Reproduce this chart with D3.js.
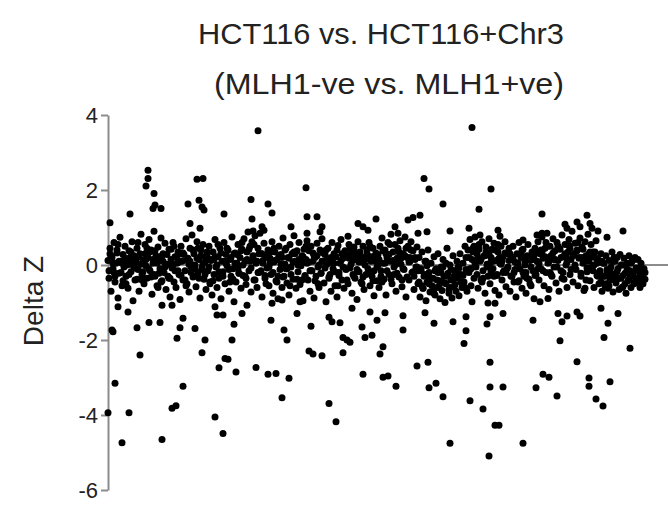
<!DOCTYPE html>
<html>
<head>
<meta charset="utf-8">
<script src="https://cdn.jsdelivr.net/npm/d3@7/dist/d3.min.js"></script>
<style>
    html, body { margin: 0; padding: 0; background: #fff; }
    #chart { width: 668px; height: 510px; }
</style>
</head>
<body>
<div id="chart"></div>
<script>
// probe order (x) and delta Z (y)
const titleLines = ['HCT116 vs. HCT116+Chr3', '(MLH1-ve vs. MLH1+ve)'];
const yLabel = 'Delta Z';
const yTicks = [4, 2, 0, -2, -4, -6];

const upperPoints = [
    [150,3.58],[40,2.53],[40,2.31],[38,2.11],[46,1.91],[45,1.51],[53,1.51],[47,1.6],[22,1.36],[89,2.29],[95,2.31],[80,1.63],[91,1.73],[94,1.55],[96,1.47],[116,1.36],[143,1.75],[160,1.63],[164,1.39],[144,1.23],[145,0.91],[154,1.02],[156,0.93],[183,1.02],[2,1.13],[82,1.11],[92,0.98],
    [364,3.67],[198,2.06],[316,2.31],[321,2.03],[335,1.63],[371,1.49],[199,1.29],[209,1.29],[199,0.85],[214,1.02],[212,0.89],[250,1.11],[255,1.02],[260,0.93],[268,1.23],[300,1.2],[305,1.27],[312,1.33],[287,1.02],[290,0.85],[310,0.85],[319,0.89],[342,0.91],[361,0.98],[240,0.77],
    [383,2.03],[434,1.36],[479,1.33],[390,0.93],[392,0.77],[372,0.8],[457,1.09],[459,0.98],[469,1.15],[472,1.02],[482,1.11],[484,0.98],[490,0.91],[515,0.91],[499,0.74],[429,0.8],[434,0.85],[415,0.67]
];

const lowerPoints = [
    [4,-1.73],[5,-1.78],[29,-1.67],[41,-1.53],[52,-1.53],[75,-1.42],[72,-1.67],[87,-1.69],[69,-1.95],[97,-2.0],[94,-2.34],[32,-2.4],[117,-2.49],[120,-2.51],[111,-2.74],[128,-2.85],[124,-2.0],[126,-1.58],[148,-2.73],[160,-2.91],[168,-2.89],[181,-3.02],[174,-3.54],[163,-1.47],[176,-1.73],[179,-2.0],[7,-3.15],[75,-3.23],[64,-3.82],[68,-3.75],[0,-3.94],[21,-3.94],[107,-4.05],[115,-4.49],[14,-4.74],[54,-4.65],[10,-1.11],[20,-1.25],[54,-1.07],[64,-1.07],[107,-1.11],[109,-1.33],[115,-1.33],[134,-1.29],[139,-1.07],[189,-1.29],[164,-1.02],[174,-0.93],
    [203,-1.63],[221,-1.39],[224,-1.51],[232,-1.54],[254,-1.65],[235,-1.93],[239,-2.0],[242,-2.06],[257,-1.93],[264,-1.87],[201,-2.29],[205,-2.37],[214,-2.42],[235,-2.34],[272,-2.37],[275,-2.18],[295,-1.73],[295,-1.35],[317,-1.27],[326,-1.55],[345,-1.51],[358,-1.38],[358,-1.75],[356,-2.09],[309,-2.69],[320,-2.59],[255,-2.91],[275,-2.99],[280,-2.96],[288,-3.23],[321,-3.27],[328,-3.15],[335,-3.51],[362,-3.62],[221,-3.69],[228,-4.18],[342,-4.75],[277,-1.27],[269,-1.47],[192,-0.98],[244,-1.15],[262,-1.25],[364,-0.98],
    [382,-1.38],[379,-1.57],[395,-1.29],[380,-1.01],[387,-1.02],[425,-1.47],[450,-1.29],[454,-1.51],[459,-1.36],[469,-1.25],[472,-1.36],[452,-2.02],[493,-1.15],[510,-1.29],[500,-1.55],[496,-1.93],[522,-2.22],[382,-2.59],[469,-2.58],[435,-2.91],[441,-2.99],[382,-3.25],[395,-3.25],[428,-3.27],[449,-3.49],[481,-3.01],[481,-3.23],[502,-3.11],[488,-3.57],[495,-3.76],[375,-3.84],[387,-4.27],[391,-4.27],[415,-4.75],[381,-5.09],[432,-0.98],[440,-0.89],[477,-0.62]
];

// main cloud, split by stretch of the genome
const bandA = [
    [0,0.12],[1,-0.35],[2,0.45],[3,-0.7],[4,0.2],[5,-0.1],[6,0.6],[7,-0.45],[8,0.05],[9,0.32],[10,-0.88],[11,-0.22],[12,0.74],[13,0.1],[14,-0.55],[15,0.28],[16,-0.05],[17,0.5],[18,-0.3],[19,0.15],
    [20,-0.62],[21,0.38],[22,0.02],[23,-0.18],[24,0.62],[25,-0.95],[26,0.25],[27,-0.4],[28,0.08],[29,0.45],[30,-0.12],[31,-0.7],[32,0.3],[33,0.82],[34,-0.25],[35,0.12],[36,-0.5],[37,0.55],[38,-0.02],[39,-0.35],
    [40,0.2],[41,0.68],[42,-0.15],[43,0.4],[44,-0.78],[45,0.05],[46,0.9],[47,-0.3],[48,0.25],[49,-0.55],[50,0.48],[51,0.12],[52,-0.1],[53,0.72],[54,-0.42],[55,0.3],[56,-0.2],[57,0.58],[58,-0.65],[59,0.02],
    [60,-0.3],[61,0.42],[62,-0.85],[63,0.15],[64,-0.08],[65,0.6],[66,-0.45],[67,0.22],[68,-0.6],[69,0.05],[70,0.35],[71,-0.25],[72,-0.92],[73,0.5],[74,0.1],[75,-0.4],[76,0.28],[77,-0.15],[78,0.7],[79,-0.5],
    [80,0.18],[81,-0.72],[82,0.45],[83,-0.05],[84,0.8],[85,-0.32],[86,0.3],[87,0.0],[88,-0.58],[89,0.62],[90,-0.2],[91,0.15],[92,-0.88],[93,0.4],[94,-0.12],[95,0.55],[96,-0.38],[97,0.08],[98,-0.65],[99,0.25],
    [100,-0.15],[101,0.5],[102,-0.45],[103,0.12],[104,-0.8],[105,0.35],[106,-0.25],[107,0.68],[108,-0.05],[109,-0.6],[110,0.22],[111,-0.35],[112,0.45],[113,-0.9],[114,0.1],[115,-0.18],[116,0.6],[117,-0.5],[118,0.28],[119,-0.02],
    [120,0.4],[121,-0.7],[122,0.15],[123,-0.3],[124,0.75],[125,-0.1],[126,-0.98],[127,0.32],[128,-0.45],[129,0.05],[130,0.55],[131,-0.22],[132,0.2],[133,-0.62],[134,0.42]
];

const bandB = [
    [135,-0.28],[136,0.7],[137,0.1],[138,-0.52],[139,0.35],[140,0.88],[141,-0.15],[142,0.5],[143,-0.72],[144,0.62],[145,0.2],[146,-0.4],[147,0.78],[148,0.05],[149,-0.6],[150,0.45],[151,-0.2],[152,0.85],[153,0.3],[154,-0.85],[155,0.12],[156,0.58],[157,-0.35],[158,0.25],[159,-0.08],
    [160,0.4],[161,-0.55],[162,0.18],[163,-0.25],[164,0.62],[165,-0.75],[166,0.08],[167,0.35],[168,-0.42],[169,0.15],[170,-0.9],[171,0.5],[172,-0.12],[173,0.28],[174,-0.6],[175,0.72],[176,-0.3],[177,0.02],[178,0.45],[179,-0.48],
    [180,0.2],[181,-0.8],[182,0.55],[183,-0.05],[184,0.3],[185,-0.38],[186,0.78],[187,0.1],[188,-0.62],[189,0.38],[190,-0.18],[191,0.6],[192,-0.52],[193,0.05],[194,0.25],[195,-0.95],[196,0.42],[197,-0.28],[198,0.15],[199,0.65],
    [200,-0.4],[201,0.08],[202,-0.7],[203,0.5],[204,-0.15],[205,0.32],[206,-0.88],[207,0.2],[208,-0.3],[209,0.58],[210,-0.05],[211,-0.6],[212,0.4],[213,-0.22],[214,0.7],[215,0.1],[216,-0.48],[217,0.28],[218,-0.98],[219,0.02],
    [220,0.45],[221,-0.32],[222,0.15],[223,-0.7],[224,0.6],[225,-0.1],[226,0.3],[227,-0.55],[228,0.22],[229,-0.85],[230,0.52],[231,-0.2],[232,0.05],[233,0.68],[234,-0.4],[235,0.18],[236,-0.62],[237,0.38],[238,-0.12],[239,0.25],
    [240,-0.5],[241,0.55],[242,-0.08],[243,0.3],[244,-0.75],[245,0.12],[246,0.48],[247,-0.35],[248,0.2],[249,-0.92],[250,0.62],[251,-0.18],[252,0.35],[253,-0.45],[254,0.08],[255,0.5],[256,-0.65],[257,0.15],[258,-0.25],[259,0.4],
    [260,-0.1],[261,0.6],[262,-0.55],[263,0.22],[264,-0.3],[265,0.45],[266,-0.82],[267,0.1],[268,0.32],[269,-0.42]
];

const bandC = [
    [270,0.28],[271,-0.6],[272,0.5],[273,-0.15],[274,0.72],[275,0.05],[276,-0.38],[277,0.4],[278,-0.8],[279,0.2],[280,0.6],[281,-0.25],[282,0.1],[283,0.82],[284,-0.5],[285,0.35],[286,-0.05],[287,0.55],[288,-0.7],[289,0.18],
    [290,0.45],[291,-0.32],[292,0.65],[293,0.02],[294,-0.58],[295,0.3],[296,-0.12],[297,0.75],[298,-0.85],[299,0.2],[300,0.5],[301,-0.4],[302,0.1],[303,0.62],[304,-0.2],[305,0.38],[306,-0.65],[307,0.15],[308,-0.05],[309,0.48],
    [310,-0.5],[311,0.2],[312,-0.85],[313,-0.15],[314,0.35],[315,-0.62],[316,-0.3],[317,0.1],[318,-0.95],[319,-0.45],[320,0.4],[321,-0.2],[322,-0.72],[323,0.05],[324,-0.55],[325,-0.35],[326,0.22],[327,-0.8],[328,-0.1],[329,-0.6],
    [330,0.3],[331,-0.42],[332,-0.9],[333,-0.05],[334,-0.68],[335,0.15],[336,-0.3],[337,-1.0],[338,-0.5],[339,0.45],[340,-0.22],[341,-0.75],[342,0.0],[343,-0.4],[344,-0.88],[345,0.25],[346,-0.58],[347,-0.15],[348,-0.7],[349,0.1],
    [350,-0.35],[351,-0.82],[352,0.3],[353,-0.25],[354,-0.6],[355,0.05],[356,-0.45],[357,0.5],[358,-0.12],[359,-0.7],
    [360,0.4],[361,-0.2],[362,0.68],[363,-0.55],[364,0.15],[365,0.45],[366,-0.35],[367,0.75],[368,-0.05],[369,0.3],[370,-0.62],[371,0.55],[372,0.1],[373,-0.4],[374,0.62],[375,-0.15],[376,0.25],[377,-0.75],[378,0.48],[379,0.02],
    [380,-0.3],[381,0.7],[382,-0.5],[383,0.2],[384,0.42],[385,-0.1],[386,0.58],[387,-0.68],[388,0.12],[389,-0.25],[390,0.35],[391,-0.8],[392,0.05],[393,0.5],[394,-0.4],[395,0.22],[396,-0.15],[397,0.62],[398,-0.58],[399,0.3],
    [400,-0.05],[401,0.45],[402,-0.7],[403,0.15],[404,-0.3]
];

const bandD = [
    [405,0.5],[406,-0.2],[407,0.08],[408,-0.85],[409,0.3],[410,-0.45],[411,0.6],[412,-0.1],[413,0.2],[414,-0.62],[415,0.42],[416,-0.3],[417,0.0],[418,-0.75],[419,0.25],[420,0.55],[421,-0.38],[422,0.12],[423,-0.55],[424,0.35],[425,-0.15],[426,-0.9],[427,0.45],[428,-0.25],[429,0.1],
    [430,0.62],[431,-0.4],[432,0.3],[433,-0.1],[434,0.75],[435,0.18],[436,-0.55],[437,0.45],[438,-0.2],[439,0.85],[440,0.05],[441,-0.65],[442,0.5],[443,0.25],[444,-0.3],[445,0.7],[446,-0.05],[447,0.38],[448,-0.48],[449,0.6],
    [450,0.12],[451,-0.7],[452,0.42],[453,-0.15],[454,0.8],[455,0.22],[456,-0.38],[457,0.55],[458,0.0],[459,-0.6],[460,0.35],[461,0.68],[462,-0.25],[463,0.15],[464,0.9],[465,-0.45],[466,0.3],[467,0.58],[468,-0.12],[469,0.4],
    [470,-0.55],[471,0.2],[472,0.72],[473,-0.3],[474,0.48],[475,0.05],[476,-0.68],[477,0.62],[478,0.25],[479,-0.18],[480,0.82],[481,0.1],[482,-0.42],[483,0.55],[484,-0.05],[485,0.35],[486,-0.6],[487,0.2],[488,0.65],[489,-0.28],
    [490,0.15],[491,-0.5],[492,-0.15],[493,0.3],[494,-0.7],[495,-0.3],[496,0.05],[497,-0.55],[498,0.25],[499,-0.2],[500,-0.62],[501,0.12],[502,-0.4],[503,-0.05],[504,0.35],[505,-0.72],[506,-0.25],[507,0.1],[508,-0.48],[509,0.2],
    [510,-0.1],[511,-0.65],[512,0.28],[513,-0.35],[514,0.0],[515,-0.58],[516,0.18],[517,-0.22],[518,-0.75],[519,0.05],[520,-0.42],[521,0.25],[522,-0.15],[523,-0.6],[524,0.1],[525,-0.3],[526,-0.5],[527,0.2],[528,-0.08],[529,-0.45],
    [530,0.15],[531,-0.35],[532,-0.6],[533,0.05],[534,-0.25],[535,-0.5],[536,-0.1],[537,-0.38]
];

// the dense core near zero
const coreBand = [
    [1,-0.15],[3,0.25],[5,0.05],[7,-0.3],[9,0.4],[11,0.1],[13,-0.2],[15,-0.42],[17,0.18],[19,0.0],[21,-0.25],[23,0.35],[25,0.12],[27,-0.08],[29,-0.38],[31,0.22],[33,0.02],[35,-0.18],[37,0.3],[39,0.45],
    [41,-0.1],[43,-0.32],[45,0.15],[47,0.38],[49,0.05],[51,-0.22],[53,-0.45],[55,0.1],[57,-0.05],[59,0.28],[61,-0.35],[63,0.42],[65,0.0],[67,-0.15],[69,0.2],[71,0.08],[73,-0.28],[75,0.32],[77,-0.4],[79,0.12],
    [81,0.02],[83,-0.2],[85,0.4],[87,-0.1],[89,0.18],[91,-0.35],[93,0.25],[95,0.05],[97,-0.25],[99,0.35],[101,-0.05],[103,0.15],[105,-0.42],[107,0.22],[109,0.0],[111,-0.18],[113,0.32],[115,-0.3],[117,0.1],[119,0.45],
    [121,-0.12],[123,0.2],[125,-0.38],[127,0.05],[129,0.28],[131,-0.22],[133,0.38],[135,0.0],[137,-0.3],[139,0.15],[141,0.42],[143,-0.08],[145,0.25],[147,-0.4],[149,0.1],[151,0.3],[153,-0.15],[155,0.05],[157,-0.28],[159,0.2],
    [161,-0.05],[163,0.35],[165,-0.2],[167,0.12],[169,-0.45],[171,0.25],[173,0.02],[175,-0.32],[177,0.4],[179,-0.1],[181,0.18],[183,-0.25],[185,0.08],[187,0.3],[189,-0.38],[191,0.15],[193,-0.02],[195,0.22],[197,-0.3],[199,0.05],
    [201,0.38],[203,-0.15],[205,0.1],[207,-0.42],[209,0.25],[211,0.0],[213,-0.22],[215,0.32],[217,-0.08],[219,0.15],[221,-0.35],[223,0.2],[225,0.05],[227,-0.18],[229,0.4],[231,-0.28],[233,0.12],[235,-0.05],[237,0.28],[239,-0.4],
    [241,0.18],[243,0.02],[245,-0.25],[247,0.35],[249,-0.12],[251,0.08],[253,0.22],[255,-0.32],[257,0.0],[259,0.3],[261,-0.2],[263,0.1],[265,-0.42],[267,0.25],[269,-0.05],[271,0.15],[273,-0.3],[275,0.38],[277,0.05],[279,-0.15],
    [281,0.28],[283,-0.38],[285,0.12],[287,0.0],[289,-0.22],[291,0.35],[293,0.18],[295,-0.1],[297,0.25],[299,-0.32],[301,0.08],[303,0.4],[305,-0.18],[307,0.2],[309,-0.05],
    [311,-0.45],[313,-0.1],[315,-0.62],[317,-0.25],[319,-0.02],[321,-0.5],[323,-0.35],[325,-0.7],[327,-0.15],[329,-0.4],[331,-0.58],[333,-0.2],[335,-0.05],[337,-0.48],[339,-0.3],[341,-0.65],[343,-0.12],[345,-0.38],[347,-0.52],[349,-0.22],
    [351,-0.08],[353,-0.45],[355,-0.28],[357,-0.6],[359,-0.18],
    [361,0.2],[363,-0.1],[365,0.35],[367,0.05],[369,-0.25],[371,0.42],[373,0.15],[375,-0.35],[377,0.25],[379,-0.05],[381,0.3],[383,-0.18],[385,0.1],[387,0.4],[389,-0.28],[391,0.18],[393,0.02],[395,-0.2],[397,0.32],[399,-0.1],[401,0.12],
    [403,-0.3],[405,0.2],[407,-0.12],[409,0.05],[411,-0.42],[413,0.3],[415,-0.2],[417,0.1],[419,-0.35],[421,0.22],[423,-0.05],[425,0.15],[427,-0.28],[429,0.35],
    [431,0.05],[433,0.4],[435,-0.15],[437,0.22],[439,0.5],[441,0.1],[443,-0.25],[445,0.32],[447,0.15],[449,-0.05],[451,0.45],[453,0.2],[455,-0.2],[457,0.3],[459,0.08],[461,0.52],[463,-0.12],[465,0.25],[467,0.0],[469,0.38],
    [471,0.18],[473,-0.22],[475,0.42],[477,0.1],[479,-0.08],[481,0.3],[483,0.22],[485,-0.15],[487,0.35],[489,0.05],
    [491,-0.2],[493,-0.45],[495,0.05],[497,-0.3],[499,-0.12],[501,-0.55],[503,-0.25],[505,0.1],[507,-0.4],[509,-0.18],[511,-0.35],[513,0.0],[515,-0.28],[517,-0.5],[519,-0.1],[521,-0.38],[523,0.05],[525,-0.22],[527,-0.45],[529,-0.15],
    [531,-0.32],[533,-0.05],[535,-0.4],[537,-0.2]
];

const coreBand2 = [
    [2,0.3],[6,-0.2],[10,0.55],[14,0.05],[18,-0.5],[22,0.2],[26,-0.05],[30,0.6],[34,-0.4],[38,0.15],[42,0.35],[46,-0.25],[50,-0.6],[54,0.25],[58,0.0],[62,-0.35],[66,0.5],[70,-0.15],[74,0.3],[78,-0.55],
    [82,0.1],[86,-0.3],[90,0.45],[94,-0.05],[98,0.2],[102,-0.5],[106,0.15],[110,0.55],[114,-0.25],[118,0.05],[122,-0.45],[126,0.3],[130,-0.1],[134,0.6],[138,-0.35],[142,0.1],[146,0.55],[150,-0.2],[154,0.3],[158,-0.5],
    [162,0.05],[166,0.45],[170,-0.3],[174,0.2],[178,-0.1],[182,-0.55],[186,0.35],[190,0.0],[194,-0.4],[198,0.5],[202,-0.15],[206,0.25],[210,-0.5],[214,0.1],[218,0.4],[222,-0.25],[226,0.05],[230,-0.55],[234,0.3],[238,-0.1],
    [242,0.45],[246,-0.3],[250,0.15],[254,-0.5],[258,0.2],[262,0.5],[266,-0.15],[270,0.0],[274,-0.45],[278,0.3],[282,0.55],[286,-0.25],[290,0.1],[294,-0.4],[298,0.45],[302,0.2],[306,-0.3],[310,-0.15],[314,-0.55],[318,0.1],
    [322,-0.35],[326,-0.75],[330,-0.2],[334,-0.45],[338,0.05],[342,-0.6],[346,-0.3],[350,-0.05],[354,-0.5],[358,0.2],[362,-0.1],[366,0.5],[370,0.2],[374,-0.45],[378,0.35],[382,0.05],[386,-0.3],[390,0.55],[394,0.1],[398,-0.2],
    [402,0.3],[406,-0.45],[410,0.05],[414,0.4],[418,-0.2],[422,-0.5],[426,0.25],[430,-0.1],[434,0.35],[438,0.6],[442,-0.2],[446,0.15],[450,0.5],[454,-0.35],[458,0.25],[462,0.45],[466,-0.1],[470,0.6],[474,0.2],[478,-0.4],
    [482,0.35],[486,0.0],[490,-0.3],[494,0.1],[498,-0.5],[502,-0.15],[506,0.2],[510,-0.35],[514,-0.6],[518,0.0],[522,-0.25],[526,0.15],[530,-0.45],[534,-0.15]
];

class DeltaZPlot {

    constructor(parentElement) {
        this.parentElement = d3.select(parentElement);
        this.width = 668;
        this.height = 510;
        this.margin = {top: 115, right: 0, bottom: 20, left: 108};
        this.data = [].concat(bandA, bandB, bandC, bandD, coreBand, coreBand2, upperPoints, lowerPoints);
        this.render();
    }

    render() {
        const m = this.margin;
        const font = '"Liberation Sans", Arial, sans-serif';

        const svg = this.parentElement.append('svg')
            .attr('width', this.width)
            .attr('height', this.height);

        const x = d3.scaleLinear()
            .domain([0, 560])
            .range([m.left, this.width - m.right]);

        const y = d3.scaleLinear()
            .domain([-6, 4])
            .range([this.height - m.bottom, m.top]);

        // titles, fitted to the width they take in the figure
        svg.append('text')
            .attr('x', 381)
            .attr('y', 44)
            .attr('text-anchor', 'middle')
            .attr('textLength', 366)
            .attr('lengthAdjust', 'spacingAndGlyphs')
            .style('font-family', font)
            .style('font-size', '30px')
            .style('fill', '#222')
            .text(titleLines[0]);

        svg.append('text')
            .attr('x', 389)
            .attr('y', 94)
            .attr('text-anchor', 'middle')
            .attr('textLength', 350)
            .attr('lengthAdjust', 'spacingAndGlyphs')
            .style('font-family', font)
            .style('font-size', '29px')
            .style('fill', '#222')
            .text(titleLines[1]);

        // zero line, under the dots
        svg.append('line')
            .attr('x1', x(0))
            .attr('x2', this.width)
            .attr('y1', y(0))
            .attr('y2', y(0))
            .style('stroke', '#8c8c8c')
            .style('stroke-width', '2px');

        const yAxis = svg.append('g')
            .attr('transform', `translate(${m.left},0)`)
            .call(d3.axisLeft(y)
                .tickValues(yTicks)
                .tickSize(7)
                .tickSizeOuter(0)
                .tickPadding(3)
                .tickFormat(d => String(d)));

        yAxis.selectAll('path, line')
            .style('stroke', '#8c8c8c')
            .style('stroke-width', '2px');
        yAxis.selectAll('text')
            .style('font-family', font)
            .style('font-size', '22px')
            .style('fill', '#222');

        svg.append('text')
            .attr('transform', `translate(43,301) rotate(-90)`)
            .attr('text-anchor', 'middle')
            .style('font-family', font)
            .style('font-size', '28px')
            .style('fill', '#222')
            .text(yLabel);

        svg.append('g')
            .attr('class', 'dots')
            .selectAll('circle')
            .data(this.data)
            .enter().append('circle')
                .attr('cx', d => x(d[0]))
                .attr('cy', d => y(d[1]))
                .attr('r', 3.5)
                .style('fill', '#000');
    }
}

new DeltaZPlot('#chart');
</script>
</body>
</html>
